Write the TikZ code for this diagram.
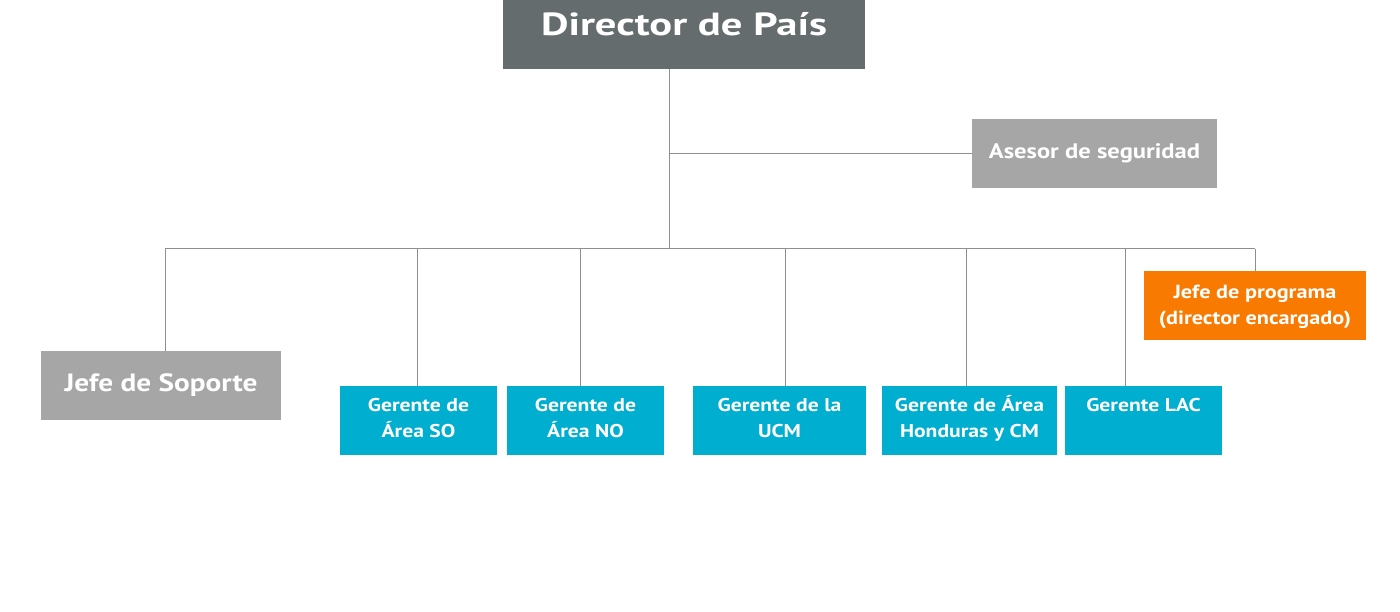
\documentclass[tikz,border=0pt]{standalone}
\usepackage{fontspec}
\setmainfont{PT Sans}[FakeStretch=1.17]
\newfontfamily\headfont{PT Sans}[FakeStretch=1.33]
\usetikzlibrary{positioning}
\definecolor{slate}{HTML}{646C6D}
\definecolor{silver}{HTML}{A6A6A6}
\definecolor{lagoon}{HTML}{00AED0}
\definecolor{tangerine}{HTML}{F97A00}
\definecolor{wire}{HTML}{8E8E8E}

\begin{document}
\begin{tikzpicture}[
  x=1pt,y=-1pt,
  post/.style={inner sep=0pt,text=white,align=center,font=\bfseries},
  head/.style={post,fill=slate,minimum width=362pt,minimum height=69pt,text height=23pt,text depth=20pt,font=\headfont\bfseries\fontsize{32}{38}\selectfont},
  staff/.style={post,fill=silver,minimum height=69pt},
  lead/.style={post,fill=tangerine,minimum width=222pt,minimum height=69pt,text height=40pt,text depth=3pt,font=\bfseries\fontsize{19}{26}\selectfont},
  mgr/.style={post,fill=lagoon,minimum height=69pt,text height=39pt,text depth=6pt,font=\bfseries\fontsize{18.5}{25.7}\selectfont},
  link/.style={draw=wire,line width=1pt}
]
\useasboundingbox (0,0) rectangle (1400,612);

\node[head] (director) at (684,34.5) {Director de País};
\node[staff,minimum width=245pt,text height=15pt,text depth=6pt,font=\bfseries\fontsize{21}{26}\selectfont] (asesor) at (1094.5,154) {Asesor de seguridad};
\node[staff,minimum width=240pt,font=\bfseries\fontsize{25}{30}\selectfont] (soporte) at (161,385.5) {Jefe de Soporte};
\node[lead] (programa) at (1255,305.5) {Jefe de programa\\(director encargado)};

\node[mgr,minimum width=157pt] (areaso) at (418.5,420.5) {Gerente de\\Área SO};
\node[mgr,minimum width=157pt] (areano) at (585.5,420.5) {Gerente de\\Área NO};
\node[mgr,minimum width=173pt] (ucm) at (779.5,420.5) {Gerente de la\\UCM};
\node[mgr,minimum width=175pt] (honduras) at (969.5,420.5) {Gerente de Área\\Honduras y CM};
\node[mgr,minimum width=157pt] (lac) at (1143.5,420.5) {Gerente LAC\\\strut};

% trunk and bar
\coordinate (trunk) at (669,249);
\coordinate (barleft) at (165,249);
\coordinate (barright) at (1255,249);
\draw[link] (director.south -| trunk) -- (trunk);
\draw[link] (trunk |- asesor.west) -- (asesor.west);
\draw[link] (barleft) -- (barright);

% drops
\draw[link] (barleft) -- (barleft |- soporte.north);
\draw[link] (barright) -- (barright |- programa.north);
\foreach \x/\n in {417/areaso,580/areano,785/ucm,966/honduras,1125/lac}
  \draw[link] (\x,249) -- (\x,249 |- \n.north);
\end{tikzpicture}
\end{document}
